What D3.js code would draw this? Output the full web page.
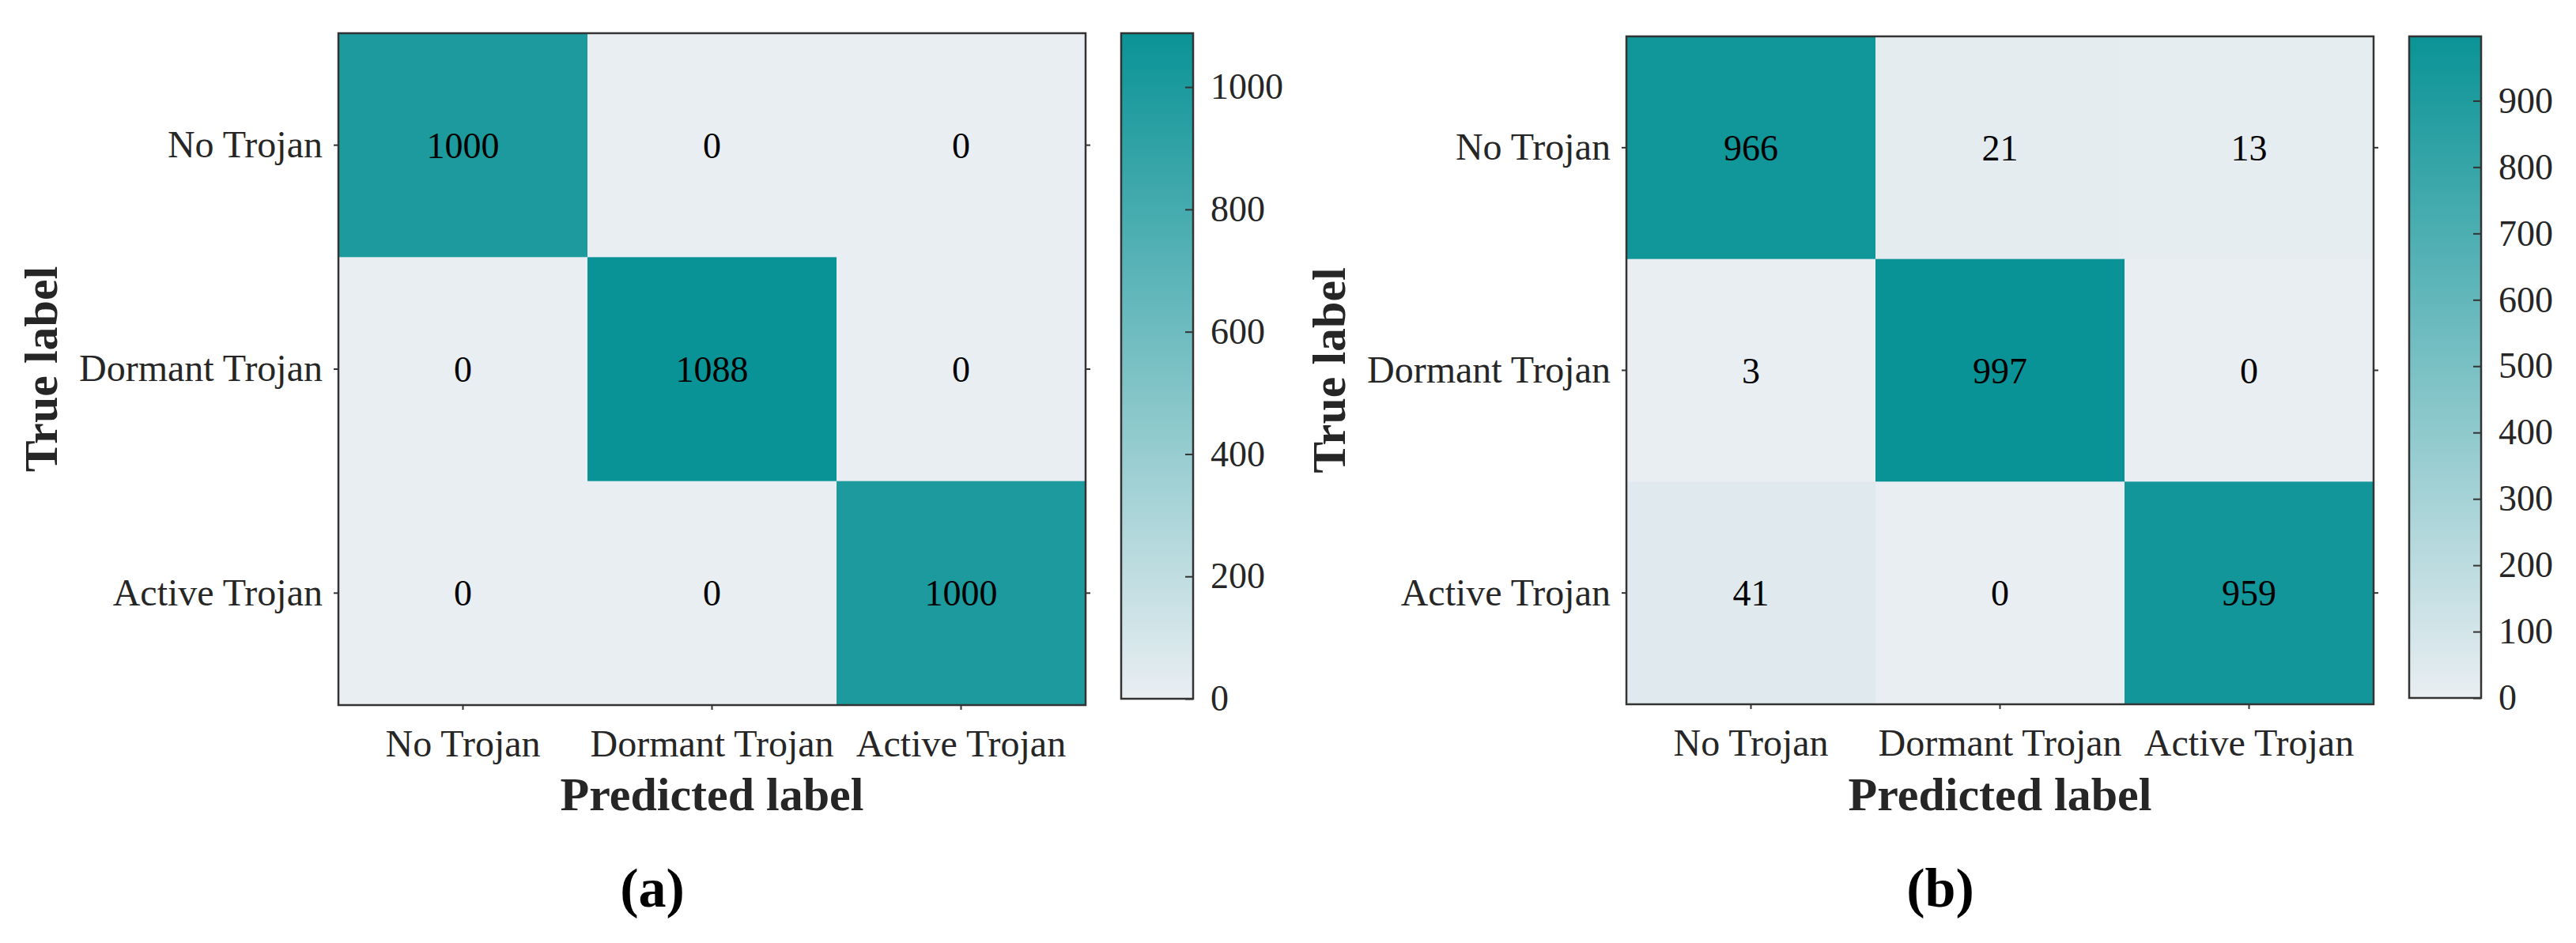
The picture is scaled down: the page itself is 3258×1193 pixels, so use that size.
<!DOCTYPE html>
<html>
<head>
<meta charset="utf-8">
<script src="https://cdn.jsdelivr.net/npm/d3@7"></script>
<style>
  body { margin: 0; background: #fff; }
  text { font-family: "Liberation Serif", "Times New Roman", serif; }
</style>
</head>
<body>
<script>

// confusion matrix data
const classes = ['No Trojan', 'Dormant Trojan', 'Active Trojan']
const matrixA = [[1000, 0, 0], [0, 1088, 0], [0, 0, 1000]]
const matrixB = [[966, 21, 13], [3, 997, 0], [41, 0, 959]]
const cbarTicksA = [0, 200, 400, 600, 800, 1000]
const cbarTicksB = [0, 100, 200, 300, 400, 500, 600, 700, 800, 900]
const captions = ['(a)', '(b)']

let svgwidth = 3258
let svgheight = 1193

let svg = d3.select(document.body)
    .append('svg')
        .attr('width', svgwidth)
        .attr('height', svgheight)

svg.append('rect')
    .attr('width', svgwidth)
    .attr('height', svgheight)
    .attr('fill', '#fff')

const lowColor = '#e9eef2'
const highColor = '#0a9396'
const inkColor = '#262626'

const drawPanel = (opts) => {

    const { id, matrix, ticks, caption, offsetX, top, bottom, cbBottom } = opts
    const left = 428 + offsetX
    const right = 1373 + offsetX
    const vmax = d3.max(matrix.flat())

    const g = svg.append('g')

    const x = d3.scaleBand().domain(classes).range([left, right])
    const y = d3.scaleBand().domain(classes).range([top, bottom])
    const color = d3.scaleLinear().domain([0, vmax]).range([lowColor, highColor])

    const cells = matrix.flatMap((row, i) => row.map((v, j) => ({ row: classes[i], col: classes[j], v })))

    g.append('g')
        .selectAll('rect')
        .data(cells)
        .join('rect')
            .attr('x', d => x(d.col))
            .attr('y', d => y(d.row))
            .attr('width', x.bandwidth() + 0.5)
            .attr('height', y.bandwidth() + 0.5)
            .attr('fill', d => color(d.v))

    g.append('g')
        .selectAll('text')
        .data(cells)
        .join('text')
            .attr('x', d => x(d.col) + x.bandwidth() / 2)
            .attr('y', d => y(d.row) + y.bandwidth() / 2)
            .attr('dy', '0.35em')
            .attr('text-anchor', 'middle')
            .attr('font-size', 46)
            .attr('fill', '#000')
            .text(d => d.v)

    // border
    g.append('rect')
        .attr('x', left)
        .attr('y', top)
        .attr('width', right - left)
        .attr('height', bottom - top)
        .attr('fill', 'none')
        .attr('stroke', '#333')
        .attr('stroke-width', 2.5)

    const styleAxis = (ax, size) => {
        ax.select('.domain').remove()
        ax.selectAll('.tick line').attr('stroke', '#333').attr('stroke-width', 2)
        ax.selectAll('.tick text')
            .attr('font-size', size)
            .attr('fill', inkColor)
            .style('font-family', '"Liberation Serif", "Times New Roman", serif')
    }

    const yAxis = g.append('g')
        .attr('transform', `translate(${left},0)`)
        .call(d3.axisLeft(y).tickSize(6).tickPadding(14))
    styleAxis(yAxis, 48)

    const yAxisR = g.append('g')
        .attr('transform', `translate(${right},0)`)
        .call(d3.axisRight(y).tickSize(6).tickFormat(''))
    styleAxis(yAxisR, 48)

    const xAxis = g.append('g')
        .attr('transform', `translate(0,${bottom})`)
        .call(d3.axisBottom(x).tickSize(6).tickPadding(25))
    styleAxis(xAxis, 48)

    // axis titles
    g.append('text')
        .attr('transform', `translate(${left - 356},${(top + bottom) / 2}) rotate(-90)`)
        .attr('text-anchor', 'middle')
        .attr('font-size', 60)
        .attr('font-weight', 'bold')
        .attr('fill', inkColor)
        .text('True label')

    g.append('text')
        .attr('x', (left + right) / 2)
        .attr('y', 1025)
        .attr('text-anchor', 'middle')
        .attr('font-size', 60)
        .attr('font-weight', 'bold')
        .attr('fill', inkColor)
        .text('Predicted label')

    // colorbar
    const cbLeft = 1418 + offsetX
    const cbRight = 1509 + offsetX
    const cbScale = d3.scaleLinear().domain([0, vmax]).range([cbBottom, top])

    const grad = svg.append('defs')
        .append('linearGradient')
            .attr('id', 'grad' + id)
            .attr('x1', 0).attr('y1', 1)
            .attr('x2', 0).attr('y2', 0)
    grad.selectAll('stop')
        .data([0, vmax])
        .join('stop')
            .attr('offset', d => d / vmax)
            .attr('stop-color', d => color(d))

    g.append('rect')
        .attr('x', cbLeft)
        .attr('y', top)
        .attr('width', cbRight - cbLeft)
        .attr('height', cbBottom - top)
        .attr('fill', `url(#grad${id})`)
        .attr('stroke', '#333')
        .attr('stroke-width', 2.5)

    const cbAxis = g.append('g')
        .attr('transform', `translate(${cbRight},0)`)
        .call(d3.axisRight(cbScale).tickValues(ticks).tickFormat(d3.format('d')).tickSize(-10).tickPadding(22))
    styleAxis(cbAxis, 46)

    // sub-figure caption
    g.append('text')
        .attr('x', 825 + offsetX)
        .attr('y', 1147)
        .attr('text-anchor', 'middle')
        .attr('font-size', 70)
        .attr('font-weight', 'bold')
        .attr('fill', '#000')
        .text(caption)
}

drawPanel({ id: 'a', matrix: matrixA, ticks: cbarTicksA, caption: captions[0], offsetX: 0, top: 42, bottom: 892, cbBottom: 884 })
drawPanel({ id: 'b', matrix: matrixB, ticks: cbarTicksB, caption: captions[1], offsetX: 1629, top: 46, bottom: 891, cbBottom: 883 })

</script>
</body>
</html>
